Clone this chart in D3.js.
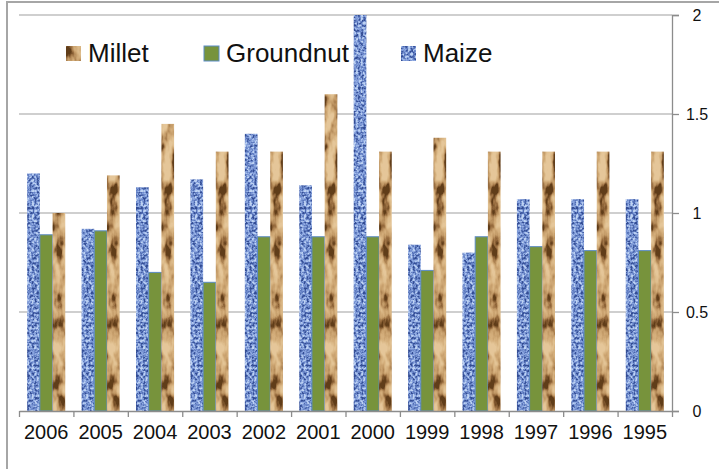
<!DOCTYPE html>
<html>
<head>
<meta charset="utf-8">
<script src="https://cdn.jsdelivr.net/npm/d3@7"></script>
<style>
  body { margin: 0; background: #fff; }
  svg { display: block; }
  .axis text { font-family: 'Liberation Sans', Arial, sans-serif; fill: #111; }
  .legend text { font-family: 'Liberation Sans', Arial, sans-serif; fill: #111; }
</style>
</head>
<body>
<script>
'use strict';

// data
const years = ['2006', '2005', '2004', '2003', '2002', '2001', '2000', '1999', '1998', '1997', '1996', '1995'];
const seriesNames = ['Maize', 'Groundnut', 'Millet'];
const maize     = [1.20, 0.92, 1.13, 1.17, 1.40, 1.14, 2.00, 0.84, 0.80, 1.07, 1.07, 1.07];
const groundnut = [0.89, 0.91, 0.70, 0.65, 0.88, 0.88, 0.88, 0.71, 0.88, 0.83, 0.81, 0.81];
const millet    = [1.00, 1.19, 1.45, 1.31, 1.31, 1.60, 1.31, 1.38, 1.31, 1.31, 1.31, 1.31];
const yTicks = [0, 0.5, 1, 1.5, 2];

const values = { Maize: maize, Groundnut: groundnut, Millet: millet };

const margin = {top: 15, right: 47, bottom: 58, left: 19},
    width = 719 - margin.left - margin.right,
    height = 469 - margin.top - margin.bottom;

const root = d3.select('body').append('svg')
    .attr('width', 719)
    .attr('height', 469);

// texture filters for the picture-filled bars
const defs = root.append('defs');

const maizeF = defs.append('filter').attr('id', 'maizeTex')
    .attr('color-interpolation-filters', 'sRGB')
    .attr('x', 0).attr('y', 0).attr('width', '100%').attr('height', '100%');
maizeF.append('feTurbulence').attr('type', 'fractalNoise')
    .attr('baseFrequency', 0.4).attr('numOctaves', 2).attr('seed', 4).attr('result', 'n');
maizeF.append('feColorMatrix').attr('in', 'n').attr('type', 'matrix')
    .attr('values', '2.4 0 0 0 -0.7  2.4 0 0 0 -0.7  2.4 0 0 0 -0.7  0 0 0 0 1').attr('result', 'g');
const mt = maizeF.append('feComponentTransfer').attr('in', 'g').attr('result', 'c');
mt.append('feFuncR').attr('type', 'table').attr('tableValues', '0.2 0.34 0.47 0.6 0.75');
mt.append('feFuncG').attr('type', 'table').attr('tableValues', '0.3 0.45 0.58 0.7 0.83');
mt.append('feFuncB').attr('type', 'table').attr('tableValues', '0.58 0.72 0.83 0.9 0.95');
maizeF.append('feComposite').attr('in', 'c').attr('in2', 'SourceAlpha').attr('operator', 'in');

const milletF = defs.append('filter').attr('id', 'milletTex')
    .attr('color-interpolation-filters', 'sRGB')
    .attr('x', 0).attr('y', 0).attr('width', '100%').attr('height', '100%');
milletF.append('feTurbulence').attr('type', 'fractalNoise')
    .attr('baseFrequency', '0.11 0.05').attr('numOctaves', 3).attr('seed', 9).attr('result', 'n');
milletF.append('feColorMatrix').attr('in', 'n').attr('type', 'matrix')
    .attr('values', '2.4 0 0 0 -0.7  2.4 0 0 0 -0.7  2.4 0 0 0 -0.7  0 0 0 0 1').attr('result', 'g');
const pt = milletF.append('feComponentTransfer').attr('in', 'g').attr('result', 'c');
pt.append('feFuncR').attr('type', 'table').attr('tableValues', '0.38 0.6 0.76 0.83 0.87 0.9');
pt.append('feFuncG').attr('type', 'table').attr('tableValues', '0.24 0.43 0.6 0.68 0.74 0.78');
pt.append('feFuncB').attr('type', 'table').attr('tableValues', '0.1 0.25 0.4 0.48 0.55 0.6');
milletF.append('feComposite').attr('in', 'c').attr('in2', 'SourceAlpha').attr('operator', 'in');

const fills = {
  Maize: {fill: '#5f85c6', filter: 'url(#maizeTex)', stroke: 'none'},
  Groundnut: {fill: '#77933c', filter: null, stroke: '#5b8bc5'},
  Millet: {fill: '#bf9a6c', filter: 'url(#milletTex)', stroke: 'none'}
};

// outer chart border
root.append('rect')
    .attr('x', 7).attr('y', 2)
    .attr('width', 800).attr('height', 600)
    .attr('fill', 'none')
    .attr('stroke', '#a6a6a6')
    .attr('stroke-width', 2);

const svg = root.append('g')
    .attr('transform', 'translate(' + margin.left + ',' + margin.top + ')');

const x0 = d3.scaleBand().domain(years).range([0, width])
    .paddingInner(0.3).paddingOuter(0.15);
const x1 = d3.scaleBand().domain(seriesNames).range([0, x0.bandwidth()]);
const xEdge = d3.scaleLinear().domain([0, years.length]).range([0, width]);
const y = d3.scaleLinear().domain([0, 2]).range([height, 0]);

// gridlines
svg.append('g')
    .selectAll('line')
    .data(yTicks.filter(d => d > 0))
    .enter().append('line')
    .attr('x1', 0).attr('x2', width)
    .attr('y1', d => y(d)).attr('y2', d => y(d))
    .attr('stroke', '#a0a0a0')
    .attr('stroke-width', 1.2);

// bars
const groups = svg.append('g').selectAll('g')
    .data(years)
    .enter().append('g')
    .attr('transform', d => 'translate(' + x0(d) + ',0)');

groups.selectAll('rect')
    .data((d, i) => seriesNames.map(s => ({key: s, value: values[s][i]})))
    .enter().append('rect')
    .attr('x', d => x1(d.key))
    .attr('y', d => y(d.value))
    .attr('width', x1.bandwidth())
    .attr('height', d => height - y(d.value))
    .attr('fill', d => fills[d.key].fill)
    .attr('filter', d => fills[d.key].filter)
    .attr('stroke', d => fills[d.key].stroke)
    .attr('stroke-width', 1);

// right value axis
const yAxis = svg.append('g')
    .attr('class', 'axis')
    .attr('transform', 'translate(' + width + ',0)')
    .call(d3.axisRight(y).tickValues(yTicks).tickSize(7).tickPadding(10)
        .tickFormat(d3.format('')));
yAxis.selectAll('path, line').attr('stroke', '#8c8c8c').attr('stroke-width', 1.3);
yAxis.selectAll('text')
    .attr('x', 25)
    .style('text-anchor', 'middle')
    .style('font-size', '16px');

// bottom axis: boundary ticks
const xTicks = svg.append('g')
    .attr('class', 'axis')
    .attr('transform', 'translate(0,' + height + ')')
    .call(d3.axisBottom(xEdge).tickValues(d3.range(years.length + 1)).tickSize(6)
        .tickSizeOuter(0).tickFormat(''));
xTicks.selectAll('path, line').attr('stroke', '#8c8c8c').attr('stroke-width', 1.3);

// bottom axis: year labels
const xLabels = svg.append('g')
    .attr('class', 'axis')
    .attr('transform', 'translate(0,' + height + ')')
    .call(d3.axisBottom(x0).tickSize(0).tickPadding(14));
xLabels.select('.domain').remove();
xLabels.selectAll('text').style('font-size', '20px');

// legend
const legendOrder = ['Millet', 'Groundnut', 'Maize'];
const legendX = [66, 204, 401];
const legend = root.append('g').attr('class', 'legend');
const items = legend.selectAll('g')
    .data(legendOrder)
    .enter().append('g')
    .attr('transform', (d, i) => 'translate(' + legendX[i] + ',46)');
items.append('rect')
    .attr('width', 15).attr('height', 15)
    .attr('fill', d => fills[d].fill)
    .attr('filter', d => fills[d].filter)
    .attr('stroke', d => fills[d].stroke)
    .attr('stroke-width', 1);
items.append('text')
    .attr('x', 22)
    .attr('y', 16)
    .style('font-size', '26px')
    .text(d => d);
</script>
</body>
</html>
